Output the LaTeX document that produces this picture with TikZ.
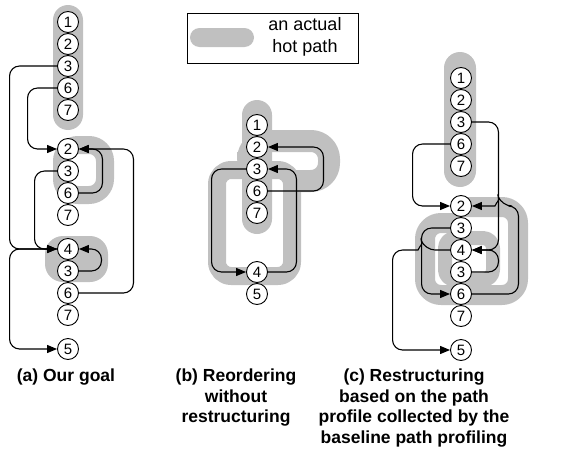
\documentclass[tikz,border=0pt]{standalone}
\usepackage{fontspec}
\setmainfont{Liberation Sans}
\usetikzlibrary{arrows.meta}
\definecolor{hot}{RGB}{192,192,192}
\begin{document}
\begin{tikzpicture}[x=1pt,y=-1pt,
  bb/.style={circle,draw,fill=white,line width=0.9pt,minimum size=21pt,inner sep=0pt,font=\fontsize{15}{15}\selectfont},
  hotband/.style={draw=hot,line width=#1,line join=round},
  edge/.style={line width=1.1pt,rounded corners=10pt,-{Triangle[length=10pt,width=8pt]}},
  captext/.style={font=\fontsize{17.5}{20.5}\selectfont\bfseries,align=center,anchor=north,inner sep=0pt}]
\useasboundingbox (0,0) rectangle (562,455);

% ---------- hot paths ----------
% (a)
\fill[hot,rounded corners=15pt] (53,5) rectangle (83,130);
\draw[hotband=18pt,rounded corners=16pt] (62,145) -- (105,145) -- (105,195) -- (62,195) -- cycle;
\fill[hot,rounded corners=18pt] (45,236) rectangle (108,282);
% (b)
\fill[hot,rounded corners=15pt] (242,100) rectangle (272,234);
\draw[hotband=18pt,rounded corners=14pt] (217,170) rectangle (292,276);
\draw[hotband=22pt,rounded corners=18pt] (248,152) |- (329,141) |- (292,181);
% (c)
\fill[hot,rounded corners=16pt] (444,52) rectangle (476,187);
\draw[hotband=20pt,rounded corners=16pt] (461,207) -- (518,207) -- (518,295) -- (425,295) -- (425,223) -- (461,223);
\draw[hotband=14pt,rounded corners=10pt] (445,238) rectangle (493,280);

% ---------- legend ----------
\node[draw,line width=0.9pt,minimum width=171pt,minimum height=50pt,inner sep=0pt] (leg) at (272.5,38) {};
\fill[hot,rounded corners=9.5pt] (190,28) rectangle (254,47);
\node[font=\fontsize{18}{22}\selectfont,align=center,inner sep=0pt] (legtxt) at (305,37) {an actual\\hot path};

% ---------- nodes (a) ----------
\node[bb] (pa1) at (68,22) {1};
\node[bb] (pa2) at (68,44) {2};
\node[bb] (pa3) at (68,66) {3};
\node[bb] (pa6) at (68,88) {6};
\node[bb] (pa7) at (68,110) {7};
\node[bb] (qa2) at (68,149) {2};
\node[bb] (qa3) at (68,171) {3};
\node[bb] (qa6) at (68,193) {6};
\node[bb] (qa7) at (68,215) {7};
\node[bb] (ra4) at (68,249) {4};
\node[bb] (ra3) at (68,271) {3};
\node[bb] (ra6) at (68,293) {6};
\node[bb] (ra7) at (68,315) {7};
\node[bb] (sa5) at (68,349) {5};

% ---------- nodes (b) ----------
\node[bb] (b1) at (257,125) {1};
\node[bb] (b2) at (257,147) {2};
\node[bb] (b3) at (257,169) {3};
\node[bb] (b6) at (257,191) {6};
\node[bb] (b7) at (257,213) {7};
\node[bb] (b4) at (257,272) {4};
\node[bb] (b5) at (257,294) {5};

% ---------- nodes (c) ----------
\node[bb] (c1) at (461,78) {1};
\node[bb] (c2) at (461,100) {2};
\node[bb] (c3) at (461,122) {3};
\node[bb] (c6) at (461,144) {6};
\node[bb] (c7) at (461,166) {7};
\node[bb] (d2) at (461,206) {2};
\node[bb] (d3a) at (461,228) {3};
\node[bb] (d4) at (461,250) {4};
\node[bb] (d3b) at (461,272) {3};
\node[bb] (d6) at (461,294) {6};
\node[bb] (d7) at (461,316) {7};
\node[bb] (d5) at (461,350) {5};

% ---------- connectors (a) ----------
\draw[edge] (pa3.west) -- ++(-47.5,0) |- (ra4.west);
\draw[edge] (pa6.west) -- ++(-29.5,0) |- (qa2.west);
\draw[edge] (qa3.west) -- ++(-22.5,0) |- (ra4.west);
\draw[edge] (qa6.east) -- ++(23.5,0) |- (qa2.east);
\draw[edge] (ra6.east) -- ++(54.5,0) |- (qa2.east);
\draw[edge] (ra3.east) -- ++(22.5,0) |- (ra4.east);
\draw[edge] (ra4.west) -- ++(-47.5,0) |- (sa5.west);

% ---------- connectors (b) ----------
\draw[edge] (b6.east) -- ++(55.5,0) |- (b2.east);
\draw[edge] (b4.east) -- ++(28.5,0) |- (b3.east);
\draw[edge] (b3.west) -- ++(-34.5,0) |- (b4.west);

% ---------- connectors (c) ----------
\draw[edge] (c3.east) -- ++(26.5,0) |- (d4.east);
\draw[edge] (c6.west) -- ++(-37.5,0) |- (d2.west);
\draw[edge] (d6.east) -- ++(46.5,0) |- ([xshift=30pt]d2.east) [sharp corners]
   .. controls +(-2,-5) and +(2,-5) .. ([xshift=23pt]d2.east) -- (d2.east);
\draw[edge] (d3a.west) -- ++(-28.5,0) |- (d6.west);
\draw[edge] (d3b.east) -- ++(26.5,0) |- (d4.east);
\draw[edge] (d4.west) -- ([xshift=-25pt]d4.west) [sharp corners]
   .. controls +(-2,-5) and +(2,-5) .. ([xshift=-32pt]d4.west) [rounded corners=10pt]
   -- ([xshift=-57.5pt]d4.west) |- (d5.west);

% ---------- captions ----------
\node[captext] (capa) at (66,369) {(a) Our goal};
\node[captext] (capb) at (236,369) {(b) Reordering\\without\\restructuring};
\node[captext] (capc) at (414,369) {(c) Restructuring\\based on the path\\profile collected by the\\baseline path profiling};
\end{tikzpicture}
\end{document}
